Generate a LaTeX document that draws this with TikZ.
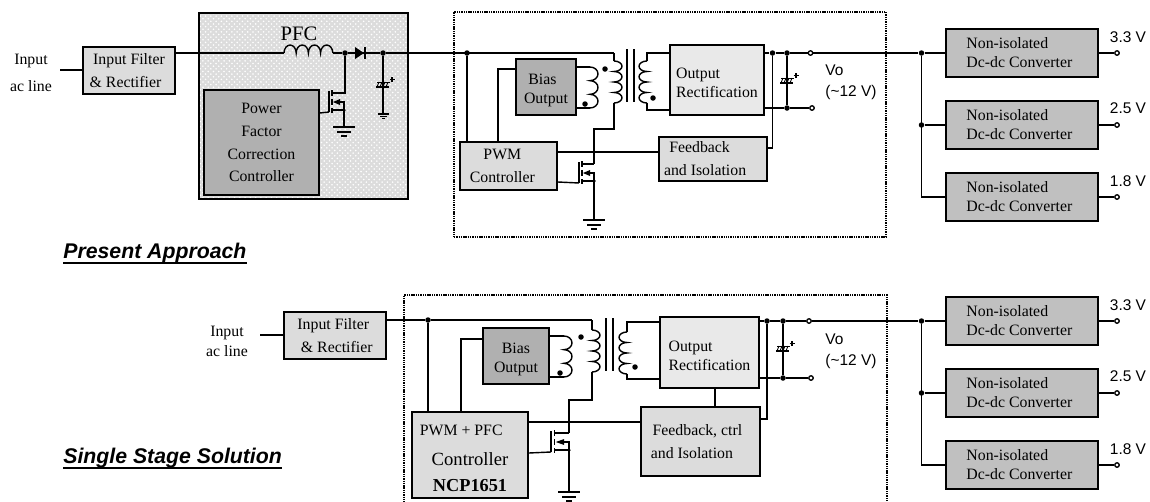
\documentclass[tikz,border=0pt]{standalone}
\usepackage{fontspec}
\setmainfont{Liberation Serif}
\setsansfont{Liberation Sans}
\usetikzlibrary{patterns}
\definecolor{greya}{HTML}{DCDCDC}
\definecolor{greyb}{HTML}{B0B0B0}
\definecolor{greyc}{HTML}{E9E9E9}
\definecolor{greyd}{HTML}{C0C0C0}
\tikzset{
	wire/.style={line width=0.8pt},
	boxsize/.style 2 args={minimum width=#1*0.02cm, minimum height=#2*0.02cm},
	block/.style={draw, line width=0.9pt, inner sep=0pt, align=center, font=\fontsize{9}{13}\selectfont},
	tight/.style={font=\fontsize{9}{10.8}\selectfont},
	frame/.style={draw, line width=1.3pt, dash pattern=on 0.8pt off 0.5pt},
	caption/.style={font=\fontsize{9}{13}\selectfont, align=center, inner sep=0pt},
	volts/.style={font=\sffamily\fontsize{8.8}{11.4}\selectfont, inner sep=0pt, align=left},
	heading/.style={font=\sffamily\bfseries\itshape\fontsize{12.1}{14}\selectfont, inner sep=0pt, anchor=base west},
	rulebar/.style={line width=1.1pt},
	jdot/.style={circle, fill=black, inner sep=0pt, minimum size=0.11cm},
	opin/.style={circle, draw, line width=0.75pt, fill=white, inner sep=0pt, minimum size=0.09cm},
}
% coil bumps, going down (right or left) or across
\def\coildown[#1](#2)(#3:#4){\draw[wire] (#2) foreach \n in {1,...,#4} {arc (90:#1:0.16cm and #3*0.02cm)};}
\def\coilacross(#1)(#2){\draw[wire] (#1) foreach \n in {1,...,#2} {arc (180:0:0.122cm and 0.16cm)};}
\def\fet(#1)(#2:#3){
	\begin{scope}[shift={(#1)}, xscale=#3]
		\draw[wire] (-15,-2) -- (-15,19);
		\draw[line width=1pt] (-12,-3) -- (-12,3) (-12,6) -- (-12,12) (-12,15) -- (-12,20);
		\draw[wire] (-12,0) -- (0,0);
		\draw[wire] (-12,17) -- (0,17);
		\draw[wire] (-4,9) -- (0,9) -- (0,17);
		\fill (-11,9) -- (-4,6) -- (-4,12) -- cycle;
		\coordinate (#2d) at (0,0);
		\coordinate (#2s) at (0,17);
		\coordinate (#2g) at (-15,19);
	\end{scope}
	\node[jdot, minimum size=0.07cm] (#2dot) at (#2s) {};
}
\def\gnd(#1)(#2){
	\begin{scope}[shift={(#1)}, scale=#2]
		\draw[wire] (-11,0) -- (11,0);
		\draw[wire] (-7,5) -- (7,5);
		\draw[line width=1pt] (-3,9) -- (3,9);
	\end{scope}
}
\def\capsym(#1){
	\begin{scope}[shift={(#1)}]
		\draw[line width=0.5pt] (-6,-2.5) -- (7,-2.5);
		\draw[line width=1.1pt] (-7,2.5) -- (6,2.5);
		\draw[line width=0.5pt] (-6,2.5) -- (-4,-2.5) (-3,2.5) -- (-1,-2.5) (0,2.5) -- (2,-2.5) (3,2.5) -- (5,-2.5);
		\draw[line width=0.6pt] (6.5,-5) -- (11.5,-5) (9,-7.5) -- (9,-2.5);
	\end{scope}
}
\def\lowered#1{\rule{0pt}{#1}}

\begin{document}
\begin{tikzpicture}[x=0.02cm, y=-0.02cm]
	\useasboundingbox (0,0) rectangle (1150,501);
	%%%%% PRESENT APPROACH %%%%%

	\node[block, boxsize={209}{186}, preaction={fill=greya}, pattern=crosshatch dots, pattern color=white] (pfcblock) at (303.5,106) {};
	\node[block, boxsize={115}{105}, fill=greyb] (pfcctrl) at (261.5,142.5) {Power\\Factor\\Correction\\Controller};
	\node[caption, font=\fontsize{11.7}{13}\selectfont] (pfclabel) at (299,34) {PFC};
	\node[frame, boxsize={432}{225}, inner sep=0pt] (stageone) at (670,124.5) {};

	\node[caption, font=\fontsize{9}{15.4}\selectfont] (inone) at (31,72.5) {Input\\ac line};
	\node[block, boxsize={92}{47}, fill=greya] (filterone) at (129,70.5) {Input Filter\\\& Rectifier\hspace*{4pt}};
	\coordinate (inonew) at (60,70);
	\draw[wire] (inonew) -- (filterone.west |- inonew);

	% front end of the pfc stage
	\coordinate (lone) at (284,53);
	\coordinate (loneend) at (333,53);
	\node[jdot] (swone) at (345,53) {};
	\node[jdot] (busone) at (383,53) {};
	\node[jdot] (busdot) at (467,53) {};
	\coordinate (primtop) at (614,53);
	\draw[wire] (filterone.east |- lone) -- (lone);
	\coilacross(lone)(4);
	\draw[wire] (loneend) -- (swone) -- (busone) -- (primtop);
	\fill (355,47) -- (355,59) -- (364,53) -- cycle;
	\draw[line width=1pt] (365,47) -- (365,59);

	\fet(344,93)(qone:1);
	\draw[wire] (swone) -- (swone |- qoned) -- (qoned);
	\draw[wire] (pfcctrl.east |- 320,113) -- (qoneg);
	\coordinate (gndone) at (344,127);
	\draw[wire] (qones) -- (gndone);
	\gnd(gndone)(1);

	\coordinate (capone) at (383,84.5);
	\coordinate (gndtwo) at (383,114);
	\draw[wire] (busone) -- (gndtwo);
	\capsym(capone);
	\gnd(gndtwo)(0.5);

	% flyback stage
	\node[block, boxsize={97}{48}, fill=greya] (pwmone) at (508.5,166) {PWM\hspace*{7pt}\\Controller\hspace*{7pt}};
	\node[block, tight, boxsize={60}{56}, fill=greyb] (biasone) at (546,87) {\lowered{9.5pt}Bias\hspace*{4pt}\\Output};
	\node[block, boxsize={94}{70}, tight, fill=greyc, align=left] (rectone) at (717,80) {\lowered{9pt}Output\\Rectification};
	\node[block, boxsize={108}{44}, fill=greya, align=left] (fbone) at (713,159) {\hspace*{3pt}Feedback\\and Isolation\hspace*{9pt}};

	\draw[wire] (busdot) -- (busdot |- pwmone.north);
	\draw[wire] (biasone.west |- 498,69) -- (498,69) -- (498,142);
	\coordinate (biasa) at (590,67);
	\coordinate (biasb) at (590,108);
	\draw[wire] (biasone.east |- biasa) -- (biasa);
	\coildown[-90](biasa)(6.83:3);
	\draw[wire] (biasone.east |- biasb) -- (biasb);
	\node[jdot] (biasmark) at (585,104) {};

	\coordinate (pria) at (614,61);
	\coordinate (prib) at (614,103);
	\coordinate (drainone) at (594,129);
	\fet(594,164)(qtwo:1);
	\draw[wire] (primtop) -- (pria);
	\coildown[-90](pria)(5.25:4);
	\draw[wire] (prib) -- (prib |- drainone) -- (drainone) -- (qtwod);
	\node[jdot] (primark) at (605,69) {};
	\draw[wire] (pwmone.east |- 557,182) -- (qtwog);
	\coordinate (gndmid) at (594,220);
	\draw[wire] (qtwos) -- (gndmid);
	\gnd(gndmid)(1);

	\draw[wire] (627,49) -- (627,102);
	\draw[wire] (634,49) -- (634,102);

	\coordinate (seca) at (647,61);
	\coordinate (secb) at (647,103);
	\draw[wire] (rectone.west |- 669,53) -- (647,53) -- (seca);
	\coildown[270](seca)(5.25:4);
	\draw[wire] (secb) -- (647,110) -- (rectone.west |- 669,110);
	\node[jdot] (secmark) at (653,98) {};

	\draw[wire] (pwmone.east |- 557,152) -- (fbone.west |- 659,152);

	\node[jdot] (outonea) at (772.5,53) {};
	\node[jdot] (outoneb) at (787,53) {};
	\node[jdot] (outonec) at (787,108) {};
	\node[opin] (pinonea) at (810.5,53) {};
	\node[opin] (pinoneb) at (812,108) {};
	\node[jdot] (railone) at (921.5,53) {};
	\node[jdot] (railtwo) at (921.5,125) {};
	\coordinate (railthree) at (921.5,197);
	\draw[wire] (rectone.east |- pinonea) -- (outonea) -- (outoneb) -- (pinonea) -- (railone);
	\draw[wire] (rectone.east |- pinoneb) -- (outonec) -- (pinoneb);
	\draw[wire] (outoneb) -- (outonec);
	\capsym(787,80.5);
	\draw[wire] (outonea) -- (772.5,148) -- (fbone.east |- 767,148);
	\node[volts, anchor=north west] (voone) at (825,65) {Vo\\(\textasciitilde 12 V)};

	% point of load converters
	\node[block, tight, boxsize={152}{48}, fill=greyd, align=left] (convone) at (1022,53) {Non-isolated\\Dc-dc Converter\hspace*{3pt}};
	\node[block, tight, boxsize={152}{48}, fill=greyd, align=left] (convtwo) at (1022,125) {Non-isolated\\Dc-dc Converter\hspace*{3pt}};
	\node[block, tight, boxsize={152}{48}, fill=greyd, align=left] (convthree) at (1022,197) {Non-isolated\\Dc-dc Converter\hspace*{3pt}};
	\draw[wire] (railone) -- (convone.west |- railone);
	\draw[wire] (railone) -- (railthree) -- (convthree.west);
	\draw[wire] (railtwo) -- (convtwo.west);
	\node[opin] (pinone) at (1117,53) {};
	\node[opin] (pintwo) at (1117,125) {};
	\node[opin] (pinthree) at (1117,197) {};
	\draw[wire] (convone.east) -- (pinone);
	\draw[wire] (convtwo.east) -- (pintwo);
	\draw[wire] (convthree.east) -- (pinthree);
	\node[volts] (vone) at (1128,37) {3.3 V};
	\node[volts] (vtwo) at (1128,108) {2.5 V};
	\node[volts] (vthree) at (1128,181) {1.8 V};

	\node[heading] (present) at (63,258) {Present Approach};
	\draw[rulebar] (present.south west) -- (present.south east);

	%%%%% SINGLE STAGE %%%%%

	\node[frame, boxsize={483}{212}, inner sep=0pt] (stagetwo) at (645.5,401) {};
	\node[caption, font=\fontsize{9}{11.4}\selectfont] (intwo) at (227,341) {Input\\ac line};
	\node[block, boxsize={102}{47}, fill=greya] (filtertwo) at (335,335.5) {\hspace*{-2pt}Input Filter\\\hspace*{2pt}\& Rectifier};
	\coordinate (intwow) at (260,335);
	\draw[wire] (intwow) -- (filtertwo.west |- intwow);

	\node[block, boxsize={116}{86}, fill=greya] (pwmtwo) at (470,455) {\lowered{10.2pt}PWM + PFC\hspace*{10pt}\\[4pt]{\fontsize{10.6}{14}\selectfont Controller}\\[2pt]{\fontsize{10.4}{14}\selectfont\bfseries NCP1651}};
	\node[block, tight, boxsize={66}{56}, fill=greyb] (biastwo) at (516,356) {\lowered{10pt}Bias\\Output};
	\node[block, tight, boxsize={99}{71}, fill=greyc, align=left] (recttwo) at (709.5,352.5) {\lowered{10pt}Output\\Rectification};
	\node[block, boxsize={119}{69}, fill=greya, align=left] (fbtwo) at (700.5,441.5) {\hspace*{1pt}Feedback, ctrl\hspace*{4.5pt}\\and Isolation};

	\node[jdot] (bustwo) at (428,320) {};
	\coordinate (pritop) at (592,320);
	\draw[wire] (filtertwo.east |- bustwo) -- (bustwo) -- (pritop);
	\draw[wire] (bustwo) -- (bustwo |- pwmtwo.north);
	\draw[wire] (biastwo.west |- 461,339) -- (461,339) -- (461,412);

	\coordinate (biasc) at (564,336);
	\coordinate (biasd) at (564,377);
	\draw[wire] (biastwo.east |- biasc) -- (biasc);
	\coildown[-90](biasc)(6.83:3);
	\draw[wire] (biastwo.east |- biasd) -- (biasd);
	\node[jdot] (biasmarktwo) at (560,373) {};

	\coordinate (pric) at (592,330);
	\coordinate (prid) at (592,372);
	\coordinate (draintwo) at (569,400);
	\fet(569,433)(qthree:1.2);
	\draw[wire] (pritop) -- (pric);
	\coildown[-90](pric)(5.25:4);
	\draw[wire] (prid) -- (prid |- draintwo) -- (draintwo) -- (qthreed);
	\node[jdot] (primarktwo) at (581,337) {};
	\draw[wire] (pwmtwo.east |- 528,453) -- (qthreeg);
	\coordinate (gndlow) at (569,492);
	\draw[wire] (qthrees) -- (gndlow);
	\gnd(gndlow)(1);

	\draw[wire] (606,318) -- (606,371);
	\draw[wire] (613,318) -- (613,371);

	\coordinate (secc) at (627,332);
	\coordinate (secd) at (627,374);
	\draw[wire] (recttwo.west |- 660,322) -- (627,322) -- (secc);
	\coildown[270](secc)(5.25:4);
	\draw[wire] (secd) -- (627,379) -- (recttwo.west |- 660,379);
	\node[jdot] (secmarktwo) at (635,367) {};

	\draw[wire] (pwmtwo.east |- 528,422) -- (fbtwo.west |- 641,422);
	\draw[wire] (recttwo.south -| 715,388) -- (fbtwo.north -| 715,407);

	\node[jdot] (outtwoa) at (767,321) {};
	\node[jdot] (outtwob) at (783,321) {};
	\node[jdot] (outtwoc) at (783,378) {};
	\node[opin] (pintwoa) at (809,321) {};
	\node[opin] (pintwob) at (811,378) {};
	\node[jdot] (railfour) at (921.5,321) {};
	\node[jdot] (railfive) at (921.5,393) {};
	\coordinate (railsix) at (921.5,465);
	\draw[wire] (recttwo.east |- pintwoa) -- (outtwoa) -- (outtwob) -- (pintwoa) -- (railfour);
	\draw[wire] (recttwo.east |- pintwob) -- (outtwoc) -- (pintwob);
	\draw[wire] (outtwob) -- (outtwoc);
	\capsym(783,348.5);
	\draw[wire] (outtwoa) -- (767,419) -- (fbtwo.east |- 760,419);
	\node[volts, anchor=north west] (votwo) at (825,334) {Vo\\(\textasciitilde 12 V)};

	\node[block, tight, boxsize={152}{48}, fill=greyd, align=left] (convfour) at (1022,321) {Non-isolated\\Dc-dc Converter\hspace*{3pt}};
	\node[block, tight, boxsize={152}{48}, fill=greyd, align=left] (convfive) at (1022,393) {Non-isolated\\Dc-dc Converter\hspace*{3pt}};
	\node[block, tight, boxsize={152}{48}, fill=greyd, align=left] (convsix) at (1022,465) {Non-isolated\\Dc-dc Converter\hspace*{3pt}};
	\draw[wire] (railfour) -- (convfour.west |- railfour);
	\draw[wire] (railfour) -- (railsix) -- (convsix.west);
	\draw[wire] (railfive) -- (convfive.west);
	\node[opin] (pinfour) at (1117,321) {};
	\node[opin] (pinfive) at (1117,393) {};
	\node[opin] (pinsix) at (1117,465) {};
	\draw[wire] (convfour.east) -- (pinfour);
	\draw[wire] (convfive.east) -- (pinfive);
	\draw[wire] (convsix.east) -- (pinsix);
	\node[volts] (vfour) at (1128,305) {3.3 V};
	\node[volts] (vfive) at (1128,376) {2.5 V};
	\node[volts] (vsix) at (1128,449) {1.8 V};

	\node[heading] (single) at (63,463) {Single Stage Solution};
	\draw[rulebar] (single.south west) -- (single.south east);

	%%%%% END %%%%%
\end{tikzpicture}
\end{document}
